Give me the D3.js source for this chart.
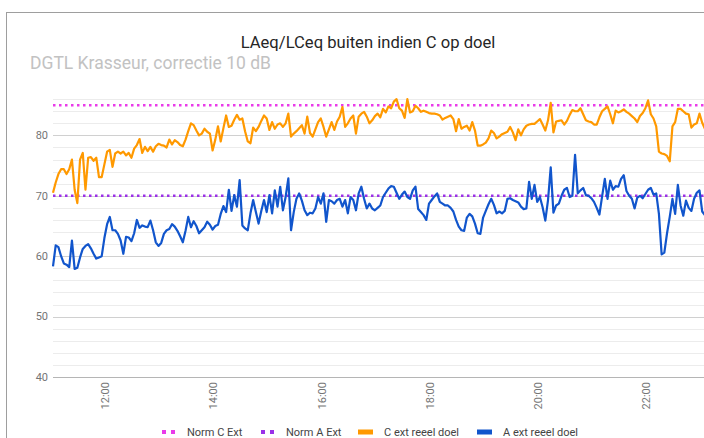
<!DOCTYPE html>
<html>
<head>
<meta charset="utf-8">
<script src="https://cdn.jsdelivr.net/npm/d3@7"></script>
<style>
  body { margin: 0; background: #fff; }
  svg { display: block; font-family: Roboto, "Noto Sans", sans-serif; }
</style>
</head>
<body>
<svg id="chart" width="704" height="438"></svg>
<script>
const title = "LAeq/LCeq buiten indien C op doel";
const subtitle = "DGTL Krasseur, correctie 10 dB";
const seriesNames = ["Norm C Ext", "Norm A Ext", "C ext reeel doel", "A ext reeel doel"];
const seriesColors = ["#e93be9", "#9b30e8", "#ff9900", "#1155cc"];
const normC = 85;
const normA = 70;
const startTime = "11:02";
const stepMinutes = 3;
const yTicks = [40, 50, 60, 70, 80];

// C ext reeel doel (dB)
const cExt = [
  70.5, 72.2, 73.6, 74.4, 74.4, 73.6, 74.4, 76.0, 71.0, 68.8,
  76.0, 77.1, 71.0, 76.3, 76.4, 75.8, 76.3, 73.1, 73.1, 75.2,
  77.3, 77.6, 74.8, 77.0, 77.3, 77.0, 77.3, 76.7, 77.1, 76.3,
  77.8, 78.4, 79.4, 77.1, 78.1, 77.4, 78.1, 77.3, 78.2, 78.6,
  78.4, 78.3, 78.0, 79.3, 78.5, 79.2, 78.9, 78.4, 78.2, 79.3,
  80.7, 82.0, 81.7, 80.8, 80.0, 80.3, 81.1, 80.6, 80.3, 77.5,
  79.3, 81.5, 79.0, 81.2, 83.3, 81.4, 81.6, 82.6, 83.4, 82.6,
  82.8, 80.7, 79.0, 78.7, 81.3, 80.7, 81.4, 82.4, 83.3, 82.8,
  80.9, 82.2, 81.1, 81.8, 82.0, 81.4, 82.0, 83.6, 79.8, 80.3,
  80.7, 81.2, 81.7, 80.3, 83.1, 80.4, 79.8, 81.0, 82.2, 82.8,
  81.4, 79.8, 81.0, 82.2, 80.9, 82.3, 83.1, 84.7, 81.4, 82.0,
  82.8, 83.3, 80.3, 83.1, 83.6, 83.9, 83.1, 82.0, 82.5, 83.2,
  83.6, 83.0, 84.4, 83.8, 84.8, 84.5, 85.6, 86.0, 84.5, 84.1,
  82.9, 86.0, 83.8, 84.0, 84.9, 84.5, 83.9, 84.1, 83.9, 83.7,
  83.6, 83.6, 83.5, 83.3, 82.6, 82.9, 83.1, 83.3, 82.7, 80.7,
  82.7, 81.1, 81.4, 81.6, 80.8, 82.2, 80.8, 78.3, 78.3, 78.5,
  78.8, 79.5, 80.8, 80.4, 79.5, 79.8, 80.2, 80.4, 80.6, 81.4,
  80.5, 79.2, 81.0, 80.0, 81.0, 81.6, 81.8, 81.9, 81.9, 82.3,
  82.7, 81.8, 80.8, 82.5, 85.4, 80.5, 82.3, 82.4, 82.5, 81.8,
  82.4, 83.4, 84.2, 84.0, 84.0, 84.5, 83.5, 82.5, 82.3, 82.2,
  81.8, 81.8, 83.0, 84.0, 84.4, 84.8, 83.5, 82.0, 84.1, 83.8,
  84.0, 84.3, 83.9, 83.6, 83.2, 82.8, 82.2, 83.2, 83.7, 84.5,
  85.8, 83.5, 82.8, 81.5, 77.3, 77.0, 76.9, 76.6, 75.7, 81.5,
  82.2, 84.4, 84.4, 84.0, 83.6, 83.5, 81.3, 81.8, 82.0, 83.6,
  82.1, 81.1, 80.8, 81.5
];

// A ext reeel doel (dB)
const aExt = [
  58.3, 61.8, 61.5, 60.0, 58.8, 58.6, 58.2, 62.6, 57.9, 58.1,
  59.8, 61.2, 61.7, 62.0, 61.3, 60.4, 59.6, 59.8, 60.0, 63.0,
  65.3, 66.5, 64.3, 64.3, 63.7, 62.6, 60.4, 63.2, 63.1, 62.5,
  63.8, 66.0, 64.7, 65.1, 64.9, 64.8, 65.9, 64.3, 62.3, 61.7,
  62.2, 63.7, 64.3, 64.5, 65.3, 64.9, 64.2, 63.3, 62.3, 64.2,
  66.5, 64.8, 65.8, 65.0, 63.8, 64.3, 64.8, 65.7, 65.2, 64.4,
  65.0, 65.2, 67.0, 68.3, 67.3, 71.0, 67.5, 70.1, 68.2, 72.6,
  65.1, 64.6, 64.3, 67.1, 69.3, 67.3, 65.4, 67.5, 69.3, 67.3,
  70.1, 67.1, 70.9, 68.2, 71.5, 67.6, 69.8, 72.9, 64.3, 67.3,
  69.5, 70.4, 69.2, 67.6, 66.8, 67.2, 67.1, 67.9, 69.8, 68.7,
  70.4, 65.7, 69.3, 69.1, 68.7, 69.3, 69.5, 68.2, 69.3, 67.1,
  69.8, 69.3, 67.6, 70.4, 71.5, 69.5, 67.9, 68.7, 67.9, 67.6,
  68.0, 68.4, 69.8, 70.5, 71.2, 71.6, 71.5, 70.5, 69.5, 70.2,
  70.7, 69.8, 69.5, 70.9, 71.5, 67.8, 67.3, 66.8, 66.0, 68.7,
  69.3, 69.9, 70.4, 69.0, 68.7, 68.4, 68.4, 68.0, 67.4, 66.0,
  64.9, 64.3, 64.2, 66.4, 67.0, 66.6, 65.4, 63.8, 63.7, 66.4,
  67.5, 68.6, 69.5, 68.5, 67.1, 67.4, 67.1, 67.5, 69.5, 69.6,
  69.3, 69.1, 68.9, 68.2, 67.8, 67.9, 72.3, 69.5, 71.8, 69.0,
  69.8, 68.1, 65.9, 69.3, 74.7, 67.2, 68.4, 68.7, 70.0, 71.0,
  71.3, 69.8, 70.0, 76.8, 70.4, 70.9, 71.3, 70.1, 70.0, 69.6,
  69.0, 68.0, 66.9, 69.9, 72.8, 69.5, 72.5, 71.0, 71.6, 71.5,
  72.8, 73.4, 70.8, 70.0, 69.5, 67.9, 69.7, 70.0, 69.6, 70.3,
  71.0, 71.3, 70.2, 70.4, 67.0, 60.3, 60.6, 63.8, 66.5, 69.5,
  67.0, 71.8, 68.4, 66.7, 69.2, 68.0, 67.5, 69.5, 70.5, 70.9,
  67.4, 66.8, 66.5, 67.2
];

const svg = d3.select("#chart");
const parseTime = d3.timeParse("%H:%M");
const t0 = parseTime(startTime);
const times = cExt.map((d, i) => d3.timeMinute.offset(t0, i * stepMinutes));

const plotLeft = 53;
const pxPerHour = 54.1;
const plotBottom = 377;
const plotRight = 720;

const x = d3.scaleTime()
    .domain([t0, times[times.length - 1]])
    .range([plotLeft, plotLeft + pxPerHour * (times.length - 1) * stepMinutes / 60]);

const y = d3.scaleLinear()
    .domain([40, 80])
    .range([plotBottom, 135.4]);

// chart frame
svg.append("rect")
    .attr("x", 6.5).attr("y", 12.5)
    .attr("width", 760).attr("height", 480)
    .attr("fill", "none")
    .attr("stroke", "#9e9e9e");

// titles
svg.append("text")
    .attr("x", 368).attr("y", 48)
    .attr("text-anchor", "middle")
    .style("font-size", "16.6px")
    .attr("fill", "#262626")
    .text(title);

svg.append("text")
    .attr("x", 30).attr("y", 69)
    .style("font-size", "17.5px")
    .attr("fill", "#c2c2c2")
    .text(subtitle);

// gridlines, minor every 2 dB
const minor = d3.range(42, 87, 2).filter(v => v % 10 !== 0);
svg.append("g").selectAll("line")
    .data(minor)
    .join("line")
    .attr("x1", plotLeft).attr("x2", plotRight)
    .attr("y1", d => Math.round(y(d)) + 0.5)
    .attr("y2", d => Math.round(y(d)) + 0.5)
    .attr("stroke", "#ececec");

svg.append("g").selectAll("line")
    .data(yTicks)
    .join("line")
    .attr("x1", plotLeft).attr("x2", plotRight)
    .attr("y1", d => Math.round(y(d)) + 0.5)
    .attr("y2", d => Math.round(y(d)) + 0.5)
    .attr("stroke", d => d === 40 ? "#b5b5b5" : "#d0d0d0");

// y labels
svg.append("g").selectAll("text")
    .data(yTicks)
    .join("text")
    .attr("x", 48)
    .attr("y", d => y(d))
    .attr("dy", "0.35em")
    .attr("text-anchor", "end")
    .style("font-size", "11px")
    .attr("fill", "#757575")
    .text(d => d);

// x labels (rotated)
const xTicks = x.ticks(d3.timeHour.every(2));
svg.append("g").selectAll("text")
    .data(xTicks)
    .join("text")
    .attr("transform", d => `translate(${x(d)},382) rotate(-90)`)
    .attr("dy", "0.35em")
    .attr("text-anchor", "end")
    .style("font-size", "11px")
    .attr("fill", "#757575")
    .text(d3.timeFormat("%H:%M"));

// norm lines
[[normC, seriesColors[0]], [normA, seriesColors[1]]].forEach(([v, c]) => {
    svg.append("line")
        .attr("x1", x(t0)).attr("x2", plotRight)
        .attr("y1", y(v)).attr("y2", y(v))
        .attr("stroke", c)
        .attr("stroke-width", 2.5)
        .attr("stroke-dasharray", "2.5,3.5");
});

// measured series
const line = d3.line()
    .x((d, i) => x(times[i]))
    .y(d => y(d));

[[cExt, seriesColors[2]], [aExt, seriesColors[3]]].forEach(([vals, c]) => {
    svg.append("path")
        .datum(vals)
        .attr("fill", "none")
        .attr("stroke", c)
        .attr("stroke-width", 2.2)
        .attr("stroke-linejoin", "round")
        .attr("d", line);
});

// legend
const legendX = [162, 261, 358, 477];
const legendY = 432;
const lg = svg.append("g");
seriesNames.forEach((name, i) => {
    const g = lg.append("g").attr("transform", `translate(${legendX[i]},${legendY})`);
    if (i < 2) {
        g.append("rect").attr("x", 0).attr("y", -2).attr("width", 4).attr("height", 4).attr("fill", seriesColors[i]);
        g.append("rect").attr("x", 9).attr("y", -2).attr("width", 4).attr("height", 4).attr("fill", seriesColors[i]);
    } else {
        g.append("rect").attr("x", 0).attr("y", -2.5).attr("width", 15).attr("height", 5).attr("fill", seriesColors[i]);
    }
    g.append("text")
        .attr("x", i < 2 ? 25 : 26)
        .attr("dy", "0.35em")
        .style("font-size", "11px")
        .attr("fill", "#444")
        .text(name);
});
</script>
</body>
</html>
